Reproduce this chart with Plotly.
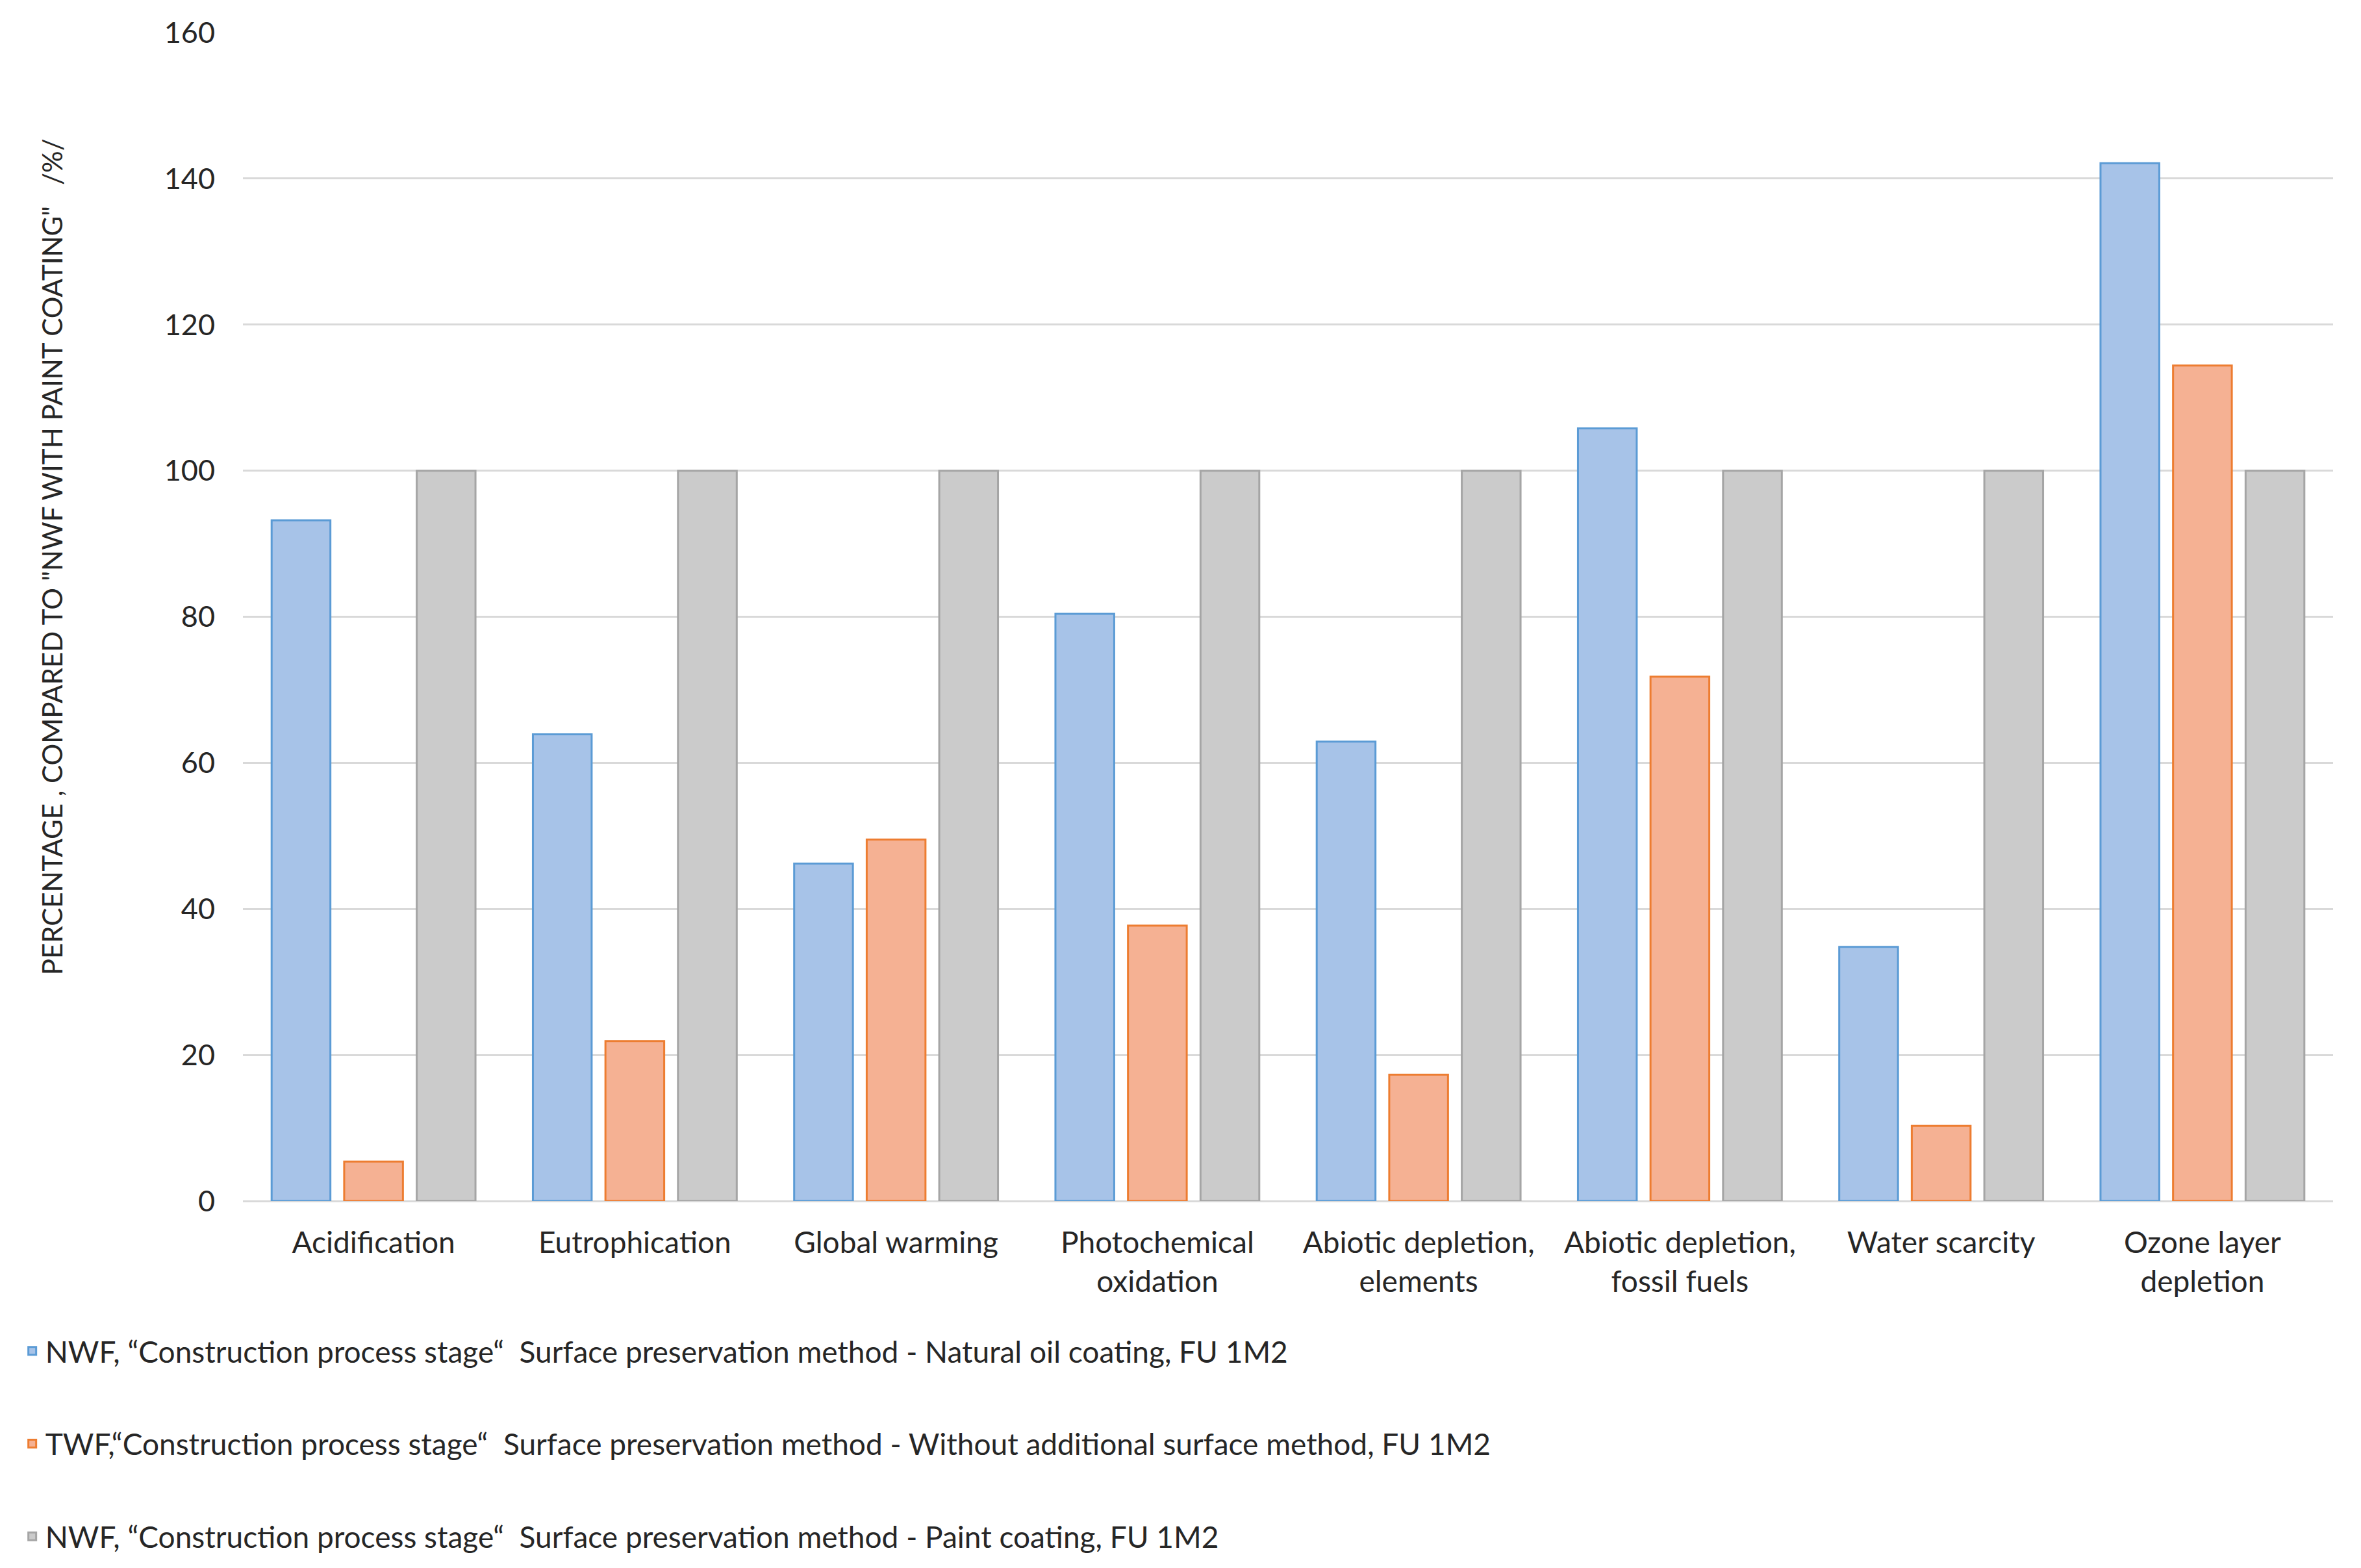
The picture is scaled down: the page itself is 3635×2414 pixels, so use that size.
import plotly.graph_objects as go

categories = ["Acidification", "Eutrophication", "Global warming", "Photochemical<br>oxidation",
              "Abiotic depletion,<br>elements", "Abiotic depletion,<br>fossil fuels",
              "Water scarcity", "Ozone layer<br>depletion"]

series_names = [
    "NWF, \u201cConstruction process stage\u201c  Surface preservation method - Natural oil coating, FU 1M2",
    "TWF,\u201cConstruction process stage\u201c  Surface preservation method - Without additional surface method, FU 1M2",
    "NWF, \u201cConstruction process stage\u201c  Surface preservation method - Paint coating, FU 1M2",
]

natural_oil = [93.2, 63.9, 46.2, 80.4, 62.9, 105.8, 34.8, 142.1]
without_surface = [5.4, 21.9, 49.5, 37.7, 17.3, 71.8, 10.3, 114.4]
paint_coating = [100, 100, 100, 100, 100, 100, 100, 100]

y_ticks = [0, 20, 40, 60, 80, 100, 120, 140, 160]

fills = ["#a7c3e8", "#f5b193", "#cbcbcb"]
lines = ["#5b9bd5", "#ed7d31", "#a5a5a5"]

FONT = "Lato"
TXT = "#262626"

fig = go.Figure()
for i, vals in enumerate([natural_oil, without_surface, paint_coating]):
    fig.add_trace(go.Bar(
        x=categories, y=vals, name=series_names[i],
        legendgroup=f"g{i}",
        marker=dict(color=fills[i], line=dict(color=lines[i], width=3)),
    ))

fig.update_layout(
    width=3635, height=2414, autosize=False,
    paper_bgcolor="white", plot_bgcolor="white",
    margin=dict(l=366, r=51, t=42, b=573),
    barmode="group", bargap=0.167, bargroupgap=0.19,
    font=dict(family=FONT, size=45, color=TXT),
    showlegend=True,
    legend=dict(
        orientation="v", x=-0.107, xanchor="left", y=-0.108, yanchor="top",
        traceorder="grouped", tracegroupgap=80,
        font=dict(family=FONT, size=46, color=TXT),
        bgcolor="rgba(0,0,0,0)",
    ),
    xaxis=dict(
        showgrid=False, showline=False, ticks="",
        tickfont=dict(family=FONT, size=46, color=TXT),
        ticklabelstandoff=33,
    ),
    yaxis=dict(
        range=[0, 160], tickvals=y_ticks, showgrid=True, gridcolor="#d9d9d9", gridwidth=3,
        zeroline=True, zerolinecolor="#d9d9d9", zerolinewidth=3,
        showline=False, ticks="",
        tickfont=dict(family=FONT, size=45, color=TXT),
        ticklabelstandoff=42,
    ),
    annotations=[dict(
        text='PERCENTAGE , COMPARED TO "NWF WITH PAINT COATING"   /%/',
        xref="paper", yref="paper", x=-0.0915, y=0.551, xanchor="center", yanchor="middle",
        textangle=-90, showarrow=False, font=dict(family=FONT, size=42, color=TXT),
    )],
)

fig.write_html("out.html")
